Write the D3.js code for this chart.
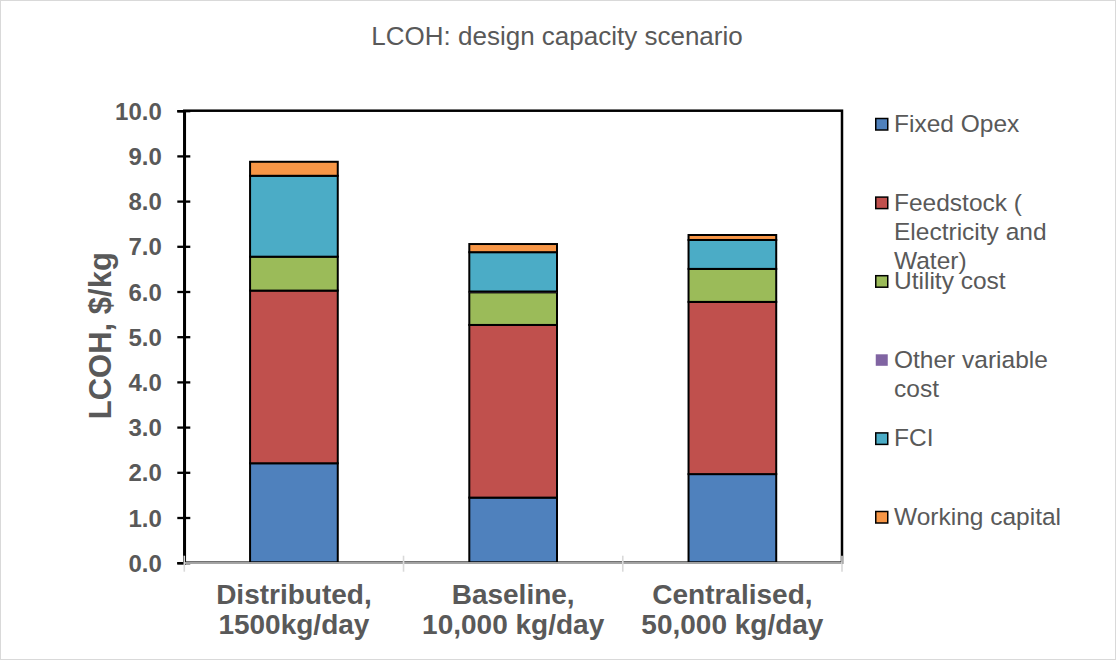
<!DOCTYPE html>
<html>
<head>
<meta charset="utf-8">
<script src="https://cdn.jsdelivr.net/npm/d3@7"></script>
<style>
  body { margin: 0; background: #fff; }
  svg { display: block; font-family: Arial, "Liberation Sans", sans-serif; }
</style>
</head>
<body>
<svg width="1116" height="660"></svg>
<script>
// chart data
const categories = ["Distributed", "Baseline", "Centralised"];
const categoryLines = [
  ["Distributed,", "1500kg/day"],
  ["Baseline,", "10,000 kg/day"],
  ["Centralised,", "50,000 kg/day"]
];
const seriesNames = ["Fixed Opex", "Feedstock ( Electricity and Water)", "Utility cost", "Other variable cost", "FCI", "Working capital"];
const legendLines = [
  ["Fixed Opex"],
  ["Feedstock (", "Electricity and", "Water)"],
  ["Utility cost"],
  ["Other variable", "cost"],
  ["FCI"],
  ["Working capital"]
];
const fixedOpex   = [2.20, 1.44, 1.96];
const feedstock   = [3.82, 3.82, 3.81];
const utilityCost = [0.75, 0.72, 0.73];
const otherVar    = [0.00, 0.02, 0.00];
const fci         = [1.79, 0.87, 0.64];
const workingCap  = [0.31, 0.18, 0.11];
const yTicks = [0, 1, 2, 3, 4, 5, 6, 7, 8, 9, 10];

const colors = ["#4f81bd", "#c0504d", "#9bbb59", "#8064a2", "#4bacc6", "#f79646"];
const grey = "#595959";

const svg = d3.select("svg");
const width = +svg.attr("width");
const height = +svg.attr("height");

// outer chart border
svg.append("rect")
  .attr("x", 0.5).attr("y", 0.5)
  .attr("width", width - 1).attr("height", height - 1)
  .attr("fill", "#fff").attr("stroke", "#d9d9d9");

const plot = { left: 184.3, right: 842, top: 110.7, bottom: 562.7 };

const x = d3.scaleBand()
  .domain(categories)
  .range([plot.left, plot.right])
  .padding(0);
const barW = x.bandwidth() * 0.4;

const y = d3.scaleLinear()
  .domain([0, 10])
  .range([plot.bottom, plot.top]);

// stack the series
const rows = categories.map((c, i) => ({
  cat: c,
  s0: fixedOpex[i], s1: feedstock[i], s2: utilityCost[i],
  s3: otherVar[i], s4: fci[i], s5: workingCap[i]
}));
const keys = ["s0", "s1", "s2", "s3", "s4", "s5"];
const stacked = d3.stack().keys(keys)(rows);

const layers = svg.append("g").selectAll("g")
  .data(stacked)
  .enter()
  .append("g")
  .attr("fill", (d, i) => colors[i])
  .attr("stroke", (d, i) => i === 3 ? "none" : "#000")
  .attr("stroke-width", 2);

layers.selectAll("rect")
  .data(d => d)
  .enter()
  .append("rect")
  .attr("x", d => x(d.data.cat) + (x.bandwidth() - barW) / 2)
  .attr("y", d => y(d[1]))
  .attr("width", barW)
  .attr("height", d => y(d[0]) - y(d[1]));

// plot area frame
svg.append("rect")
  .attr("x", plot.left).attr("y", plot.top)
  .attr("width", plot.right - plot.left)
  .attr("height", plot.bottom - plot.top)
  .attr("fill", "none")
  .attr("stroke", "#000")
  .attr("stroke-width", 2.5);

// y axis
const yAxis = d3.axisLeft(y)
  .tickValues(yTicks)
  .tickFormat(d3.format(".1f"))
  .tickSize(7)
  .tickPadding(15.5);
const yag = svg.append("g")
  .attr("transform", `translate(${plot.left},0)`)
  .call(yAxis);
yag.select(".domain").attr("stroke", "#000").attr("stroke-width", 2.5);
yag.selectAll(".tick line")
  .attr("x1", 6)
  .attr("stroke", "#000")
  .attr("stroke-width", 2.3);
yag.selectAll(".tick text")
  .attr("fill", grey)
  .attr("font-size", 24)
  .attr("font-weight", "bold")
  .attr("dy", "0.36em");

// x axis (grey line with ticks at category boundaries)
svg.append("line")
  .attr("x1", plot.left).attr("x2", plot.right)
  .attr("y1", plot.bottom + 0.3).attr("y2", plot.bottom + 0.3)
  .attr("stroke", "#d9d9d9").attr("stroke-width", 1.6);
const bounds = categories.map(c => x(c)).concat([x(categories[categories.length - 1]) + x.step()]);
svg.append("g").selectAll("line")
  .data(bounds)
  .enter()
  .append("line")
  .attr("x1", d => d).attr("x2", d => d)
  .attr("y1", plot.bottom - 7).attr("y2", plot.bottom + 9)
  .attr("stroke", "#d9d9d9").attr("stroke-width", 1.6);

// category labels
const xl = svg.append("g").selectAll("text")
  .data(categories)
  .enter()
  .append("text")
  .attr("text-anchor", "middle")
  .attr("fill", grey)
  .attr("font-size", 28)
  .attr("font-weight", "bold");
xl.each(function (d, i) {
  d3.select(this).selectAll("tspan")
    .data(categoryLines[i])
    .enter()
    .append("tspan")
    .attr("x", x(d) + x.bandwidth() / 2)
    .attr("y", (t, j) => 604 + j * 29.5)
    .text(t => t);
});

// y axis title
svg.append("text")
  .attr("transform", `translate(111,${(plot.top + plot.bottom) / 2 - 1}) rotate(-90)`)
  .attr("text-anchor", "middle")
  .attr("fill", grey)
  .attr("font-size", 31)
  .attr("font-weight", "bold")
  .text("LCOH, $/kg");

// chart title
svg.append("text")
  .attr("x", 557)
  .attr("y", 45)
  .attr("text-anchor", "middle")
  .attr("fill", grey)
  .attr("font-size", 26)
  .text("LCOH: design capacity scenario");

// legend
const legend = svg.append("g").selectAll("g")
  .data(seriesNames)
  .enter()
  .append("g")
  .attr("transform", (d, i) => `translate(875,${132 + i * 78.6})`);
legend.append("rect")
  .attr("x", 0.75).attr("y", -13.5)
  .attr("width", 12).attr("height", 11.5)
  .attr("fill", (d, i) => colors[i])
  .attr("stroke", (d, i) => i === 3 ? "none" : "#000")
  .attr("stroke-width", 1.5);
legend.append("text")
  .attr("fill", grey)
  .attr("font-size", 24.5)
  .each(function (d, i) {
    d3.select(this).selectAll("tspan")
      .data(legendLines[i])
      .enter()
      .append("tspan")
      .attr("x", 19)
      .attr("y", (t, j) => j * 29)
      .text(t => t);
  });
</script>
</body>
</html>
